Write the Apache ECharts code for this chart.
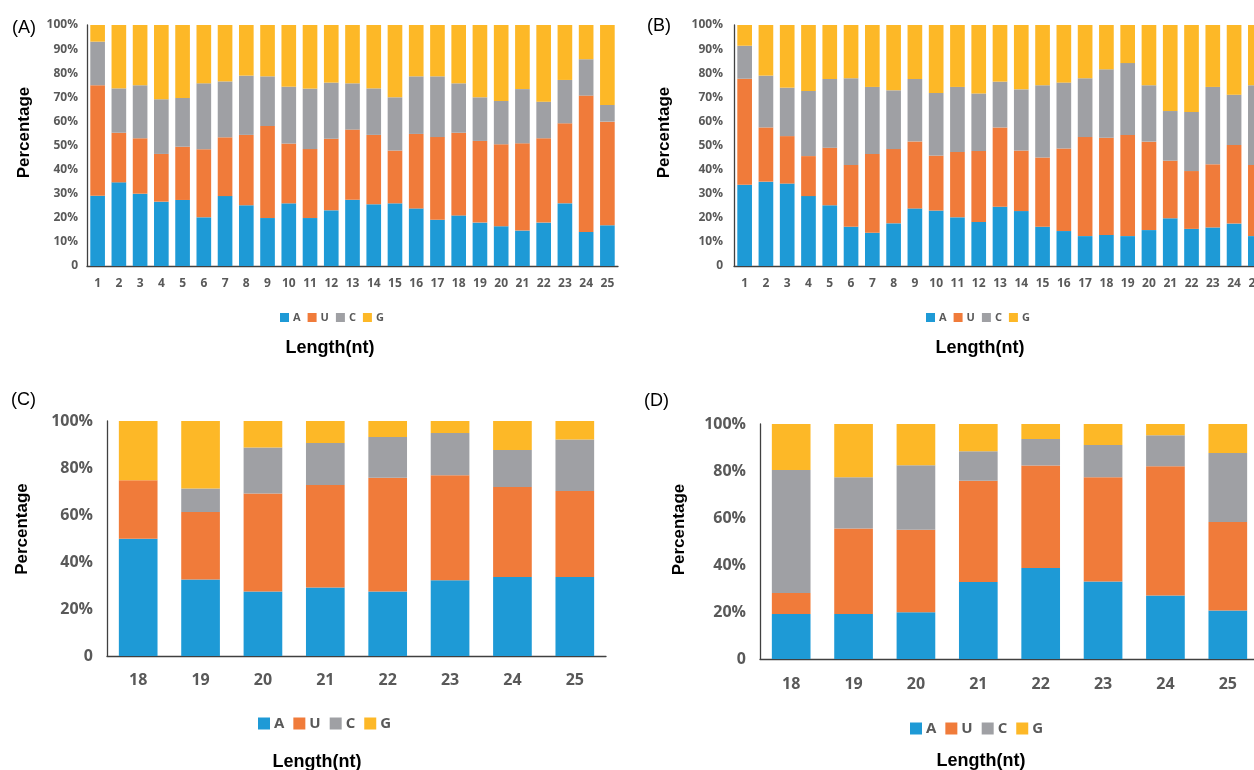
<!DOCTYPE html>
<html><head><meta charset="utf-8">
<script src="https://cdn.jsdelivr.net/npm/echarts@6/dist/echarts.min.js"></script>
<style>html,body{margin:0;padding:0;background:#fff}#c{width:1254px;height:770px}</style>
</head><body><div id="c"></div>
<script>
// ---------- data ----------
const nucleotides = ['A', 'U', 'C', 'G'];
const lengthsAB = ['1','2','3','4','5','6','7','8','9','10','11','12','13','14','15','16','17','18','19','20','21','22','23','24','25'];
const lengthsCD = ['18','19','20','21','22','23','24','25'];
const yLabelsAB = ['0','10%','20%','30%','40%','50%','60%','70%','80%','90%','100%'];
const yLabelsCD = ['0','20%','40%','60%','80%','100%'];

// Panel (A)
const panelA_A = [29.2,34.7,30.0,26.7,27.4,20.2,29.0,25.2,19.9,26.0,19.9,23.1,27.5,25.6,26.0,23.9,19.2,21.0,18.0,16.5,14.7,18.0,26.0,14.1,16.9];
const panelA_U = [45.8,20.6,23.0,19.8,22.1,28.2,24.4,29.2,38.2,24.8,28.6,29.7,29.1,28.8,21.9,30.9,34.3,34.3,33.9,34.0,36.2,35.0,33.2,56.6,43.0];
const panelA_C = [18.1,18.4,22.0,22.7,20.2,27.4,23.2,24.6,20.6,23.6,25.1,23.3,19.2,19.3,22.1,23.9,25.2,20.5,18.1,18.0,22.5,15.2,18.0,15.1,6.9];
const panelA_G = [6.9,26.3,25.0,30.8,30.3,24.2,23.4,21.0,21.3,25.6,26.4,23.9,24.2,26.3,30.0,21.3,21.3,24.2,30.0,31.5,26.6,31.8,22.8,14.2,33.2];

// Panel (B)
const panelB_A = [33.7,35.0,34.2,29.0,25.2,16.3,13.8,17.7,23.9,23.0,20.2,18.3,24.6,22.8,16.3,14.5,12.4,12.9,12.4,14.9,19.8,15.4,16.0,17.6,12.4];
const panelB_U = [44.0,22.5,19.7,16.6,23.9,25.6,32.7,30.8,27.8,22.8,27.1,29.4,32.9,25.1,28.7,34.3,41.1,40.3,42.0,36.7,23.9,24.0,26.2,32.6,29.5];
const panelB_C = [13.7,21.5,20.1,27.0,28.5,36.0,27.8,24.4,25.9,26.0,27.0,23.9,19.0,25.4,30.0,27.3,24.4,28.4,29.8,23.4,20.6,24.5,32.1,20.9,33.1];
const panelB_G = [8.6,21.0,26.0,27.4,22.4,22.1,25.7,27.1,22.4,28.2,25.7,28.4,23.5,26.7,25.0,23.9,22.1,18.4,15.8,25.0,35.7,36.1,25.7,28.9,25.0];

// Panel (C)
const panelC_A = [49.9,32.6,27.5,29.2,27.5,32.2,33.6,33.6];
const panelC_U = [24.9,28.7,41.6,43.6,48.4,44.7,38.3,36.6];
const panelC_C = [0,10.0,19.6,17.8,17.3,18.0,15.8,21.9];
const panelC_G = [25.2,28.7,11.3,9.4,6.8,5.1,12.3,7.9];

// Panel (D)
const panelD_A = [19.1,19.1,19.9,32.8,38.7,33.0,27.0,20.6];
const panelD_U = [9.0,36.4,35.1,43.1,43.6,44.3,55.0,37.7];
const panelD_C = [52.3,21.8,27.4,12.5,11.3,13.8,13.2,29.4];
const panelD_G = [19.6,22.7,17.6,11.6,6.4,8.9,4.8,12.3];

const panelData = [
  [panelA_A, panelA_U, panelA_C, panelA_G],
  [panelB_A, panelB_U, panelB_C, panelB_G],
  [panelC_A, panelC_U, panelC_C, panelC_G],
  [panelD_A, panelD_U, panelD_C, panelD_G]
];

// ---------- styles ----------
const colors = ['#1E9AD6', '#F07B3A', '#9FA0A4', '#FDB827'];
const tickColor = '#595959';
const axisLineColor = '#404040';
const tickFont = 'Open Sans';
const titleFont = 'Liberation Sans';

const panels = [
  {grid:{left:87, top:25, width:531, height:241}, cats:lengthsAB, yl:yLabelsAB, step:10, fs:12, xMargin:12, yMargin:9, nameGap:54, namePad:26, gap:'31%'},
  {grid:{left:734, top:25, width:532, height:241}, cats:lengthsAB, yl:yLabelsAB, step:10, fs:12, xMargin:12, yMargin:11, nameGap:61, namePad:26, gap:'31%'},
  {grid:{left:107, top:421, width:499, height:235}, cats:lengthsCD, yl:yLabelsCD, step:20, fs:16, xMargin:16, yMargin:14, nameGap:76, namePad:19, gap:'38%'},
  {grid:{left:760, top:424, width:499, height:235}, cats:lengthsCD, yl:yLabelsCD, step:20, fs:16, xMargin:17, yMargin:14, nameGap:72, namePad:24, gap:'38%'}
];

const grids = [], xAxes = [], yAxes = [], series = [];
panels.forEach((p, i) => {
  grids.push(Object.assign({containLabel:false, outerBoundsMode:'none'}, p.grid));
  xAxes.push({
    type:'category', gridIndex:i, data:p.cats,
    axisLine:{show:true, lineStyle:{color:axisLineColor, width:1.3}},
    axisTick:{show:false},
    axisLabel:{interval:0, margin:p.xMargin, color:tickColor, fontFamily:tickFont, fontWeight:'bold', fontSize:p.fs},
    splitLine:{show:false}
  });
  yAxes.push({
    type:'value', gridIndex:i, min:0, max:100, interval:p.step,
    name:'Percentage', nameLocation:'middle', nameRotate:90, nameGap:p.nameGap,
    nameTextStyle:{fontFamily:titleFont, fontWeight:'bold', fontSize:17, color:'#000', padding:[0,0,0,p.namePad]},
    axisLine:{show:true, lineStyle:{color:axisLineColor, width:1.3}},
    axisTick:{show:false},
    splitLine:{show:false},
    axisLabel:{margin:p.yMargin, color:tickColor, fontFamily:tickFont, fontWeight:'bold', fontSize:p.fs,
      formatter:(v) => p.yl[Math.round(v / p.step)]}
  });
  nucleotides.forEach((n, k) => {
    series.push({
      type:'bar', name:n, stack:'panel' + i, xAxisIndex:i, yAxisIndex:i,
      data:panelData[i][k], barCategoryGap:p.gap,
      itemStyle:{color:colors[k]}
    });
  });
});

const legendBase = (left, top, fs, icon, gap) => ({
  data:nucleotides, left:left, top:top, padding:0, icon:'rect', itemWidth:icon, itemHeight:icon, itemGap:gap,
  selectedMode:false,
  textStyle:{color:tickColor, fontFamily:tickFont, fontWeight:'bold', fontSize:fs, padding:[0,0,0,-1]}
});

const panelTitle = (t, left, top) => ({text:t, left:left, top:top, padding:0,
  textStyle:{fontFamily:titleFont, fontWeight:'normal', fontSize:18, color:'#000'}});
const lengthTitle = (cx, top) => ({text:'Length(nt)', left:cx, top:top, padding:0, textAlign:'center',
  textStyle:{fontFamily:titleFont, fontWeight:'bold', fontSize:18, color:'#000'}});

const chart = echarts.init(document.getElementById('c'), null, {renderer:'canvas'});
chart.setOption({
  animation:false,
  backgroundColor:'#fff',
  color:colors,
  title:[
    panelTitle('(A)', 12, 19), panelTitle('(B)', 647, 17), panelTitle('(C)', 11, 391), panelTitle('(D)', 644, 392),
    lengthTitle(330, 339), lengthTitle(980, 339), lengthTitle(317, 753), lengthTitle(981, 752)
  ],
  legend:[
    legendBase(280, 312, 11, 9, 7),
    legendBase(926, 312, 11, 9, 7),
    legendBase(258, 716, 15, 12, 9),
    legendBase(910, 721, 15, 12, 9)
  ],
  grid:grids, xAxis:xAxes, yAxis:yAxes, series:series
});
</script></body></html>
